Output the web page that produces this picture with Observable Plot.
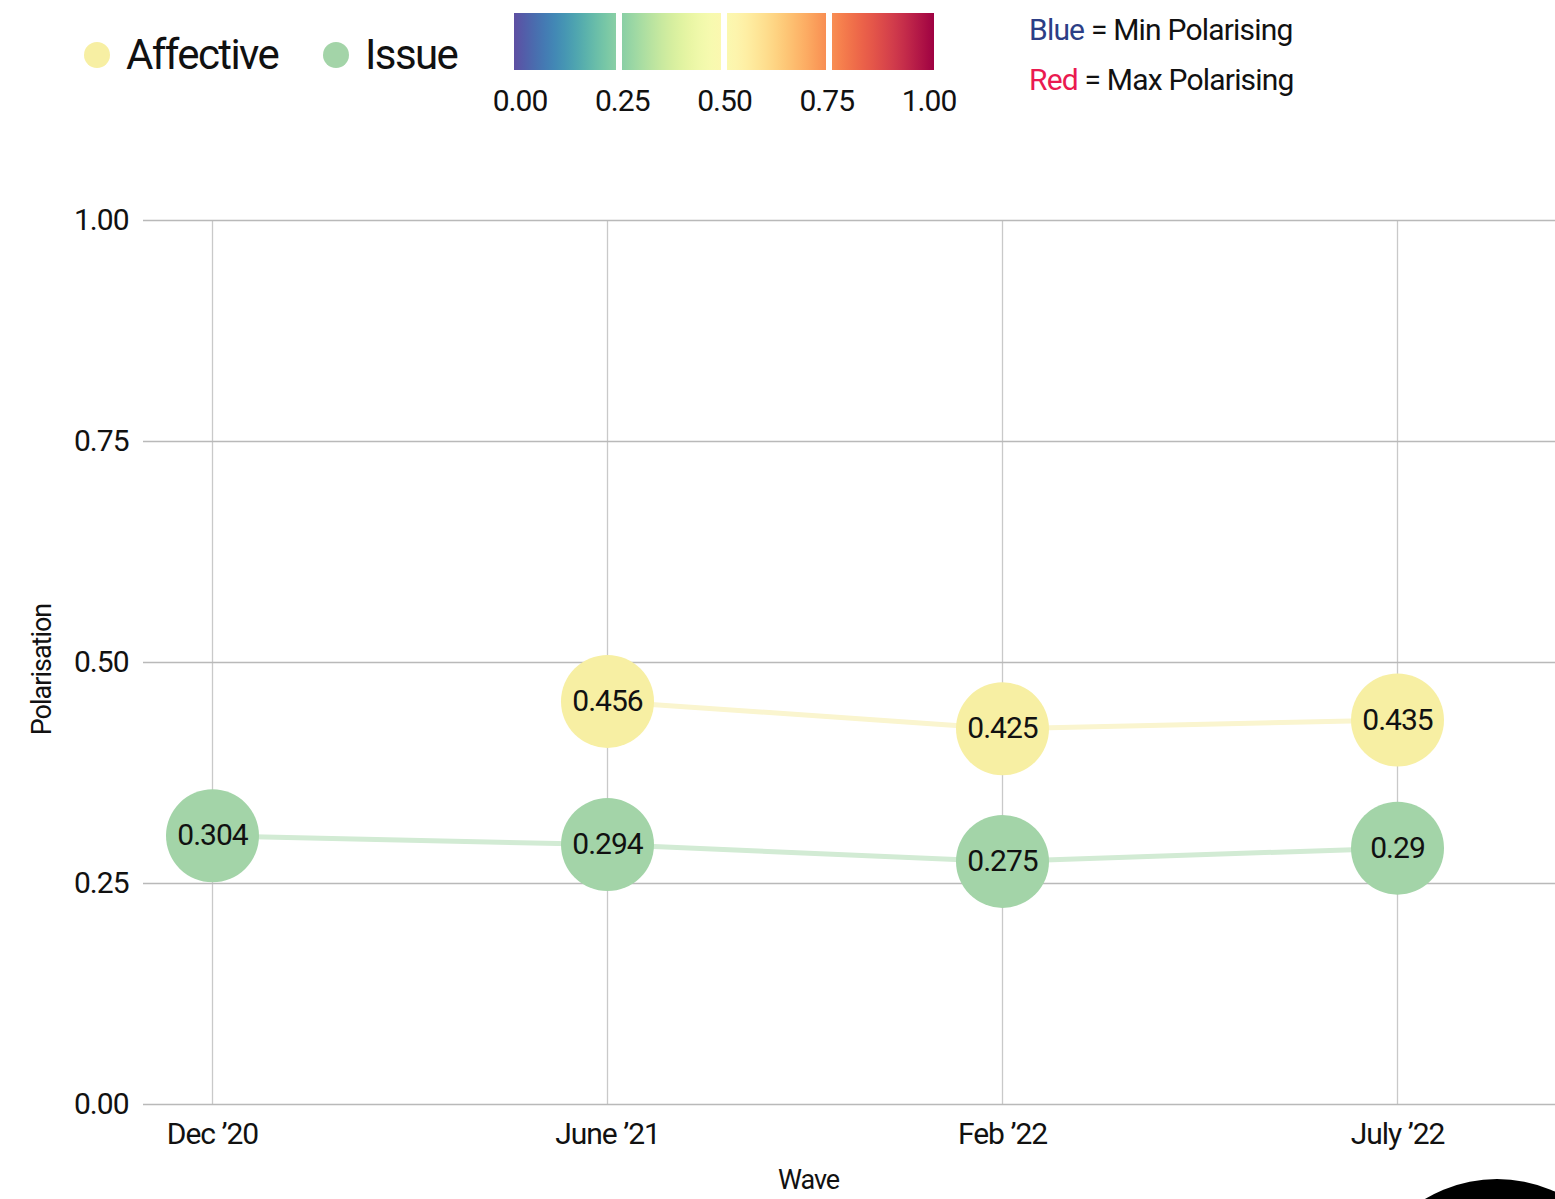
<!DOCTYPE html>
<html>
<head>
<meta charset="utf-8">
<script src="https://cdn.jsdelivr.net/npm/d3@7"></script>
<script src="https://cdn.jsdelivr.net/npm/@observablehq/plot@0.6"></script>
<style>
  html, body { margin: 0; padding: 0; background: #fff; }
  body { width: 1555px; height: 1199px; overflow: hidden; position: relative;
         font-family: "Roboto", sans-serif; color: #111; }
  #header { position: relative; width: 1555px; height: 150px; }
  .abs { position: absolute; white-space: nowrap; line-height: 1; }
  #chart svg { display: block; }
  #chart svg text { letter-spacing: -1px; }
  #blob { position: absolute; left: 1357px; top: 1179px; width: 280px; height: 280px;
          border-radius: 50%; background: #000; }
</style>
</head>
<body>
<div id="header"></div>
<div id="chart"></div>
<div id="blob"></div>
<script>
// ---- data ----
const waves = ["Dec \u201920", "June \u201921", "Feb \u201922", "July \u201922"];
const series = ["Affective", "Issue"];
const affective = [null, 0.456, 0.425, 0.435];
const issue = [0.304, 0.294, 0.275, 0.29];
const seriesColors = ["#f7efa3", "#a3d4a8"];
const lineColors = ["#faf5cf", "#d2ebd4"];
const yTicks = [0, 0.25, 0.5, 0.75, 1];
const barTicks = [0, 0.25, 0.5, 0.75, 1];
const barSegments = [[0, 0.25], [0.25, 0.5], [0.5, 0.75], [0.75, 1]];

const rows = [];
[affective, issue].forEach((vals, si) => {
  vals.forEach((v, wi) => {
    if (v != null) rows.push({series: series[si], wave: waves[wi], value: v});
  });
});

// ---- header legend ----
const header = document.getElementById("header");
function addAbs(html, style) {
  const el = document.createElement("div");
  el.className = "abs";
  el.innerHTML = html;
  Object.assign(el.style, style);
  header.appendChild(el);
  return el;
}
const legendPos = [{cx: 97, tx: 126}, {cx: 336, tx: 365}];
series.forEach((s, i) => {
  addAbs("", {left: (legendPos[i].cx - 13) + "px", top: "42px", width: "26px", height: "26px",
              borderRadius: "50%", background: seriesColors[i]});
  addAbs(s, {left: legendPos[i].tx + "px", top: "34px", fontSize: "42px", letterSpacing: "-1.6px"});
});
const barScale = d3.scaleLinear().domain([0, 1]).range([514, 934]);
const spectral = t => d3.interpolateSpectral(1 - t);
barSegments.forEach(([a, b], i) => {
  const stops = d3.range(0, 1.0001, 0.1).map(f => {
    const t = a + (b - a) * f;
    return spectral(t) + " " + (f * 100) + "%";
  }).join(", ");
  const x0 = barScale(a) + (i > 0 ? 3 : 0);
  const x1 = barScale(b) - (i < 3 ? 3 : 0);
  addAbs("", {left: x0 + "px", top: "13px", width: (x1 - x0) + "px", height: "57px",
              background: "linear-gradient(to right, " + stops + ")"});
});
const tickScale = d3.scaleLinear().domain([0, 1]).range([520, 929]);
barTicks.forEach(t => {
  addAbs(t.toFixed(2), {left: tickScale(t) + "px", top: "86px", fontSize: "30px",
                        letterSpacing: "-1px", transform: "translateX(-50%)"});
});
addAbs('<span style="color:#2c3e86">Blue</span> = Min Polarising',
       {left: "1029px", top: "15px", fontSize: "30px", letterSpacing: "-0.8px"});
addAbs('<span style="color:#ea1a50">Red</span> = Max Polarising',
       {left: "1029px", top: "65px", fontSize: "30px", letterSpacing: "-0.8px"});

// ---- chart ----
const chart = Plot.plot({
  width: 1555,
  height: 1049,
  marginLeft: 143,
  marginRight: 0,
  marginTop: 70,
  marginBottom: 95,
  style: {fontFamily: "Roboto, sans-serif", fontSize: "30px", color: "#111", background: "#fff"},
  x: {type: "point", domain: waves, range: [212, 1397], padding: 0, label: null},
  y: {domain: [0, 1], label: null},
  color: {domain: series, range: seriesColors},
  marks: [
    Plot.gridX(waves, {stroke: "#c9c9c9", strokeOpacity: 1, strokeWidth: 1.3}),
    Plot.gridY(yTicks, {stroke: "#b9b9b9", strokeOpacity: 1, strokeWidth: 1.3}),
    Plot.axisY(yTicks, {tickSize: 0, tickPadding: 15, tickFormat: d3.format(".2f"), fontSize: 30, label: null}),
    Plot.axisX(waves, {tickSize: 0, tickPadding: 18, fontSize: 30, label: null}),
    Plot.text(["Polarisation"], {frameAnchor: "left", textAnchor: "middle", rotate: -90, dx: -101, dy: 7, fontSize: 27}),
    Plot.text(["Wave"], {frameAnchor: "bottom", dx: -41, dy: 84, fontSize: 27}),
    Plot.line(rows, {x: "wave", y: "value", z: "series",
      stroke: d => lineColors[series.indexOf(d.series)], strokeWidth: 5}),
    Plot.dot(rows, {x: "wave", y: "value", r: 46.5, fill: "series", stroke: null}),
    Plot.text(rows, {x: "wave", y: "value", text: d => String(d.value), fontSize: 30, fill: "#111"})
  ]
});
document.getElementById("chart").appendChild(chart);
</script>
</body>
</html>
